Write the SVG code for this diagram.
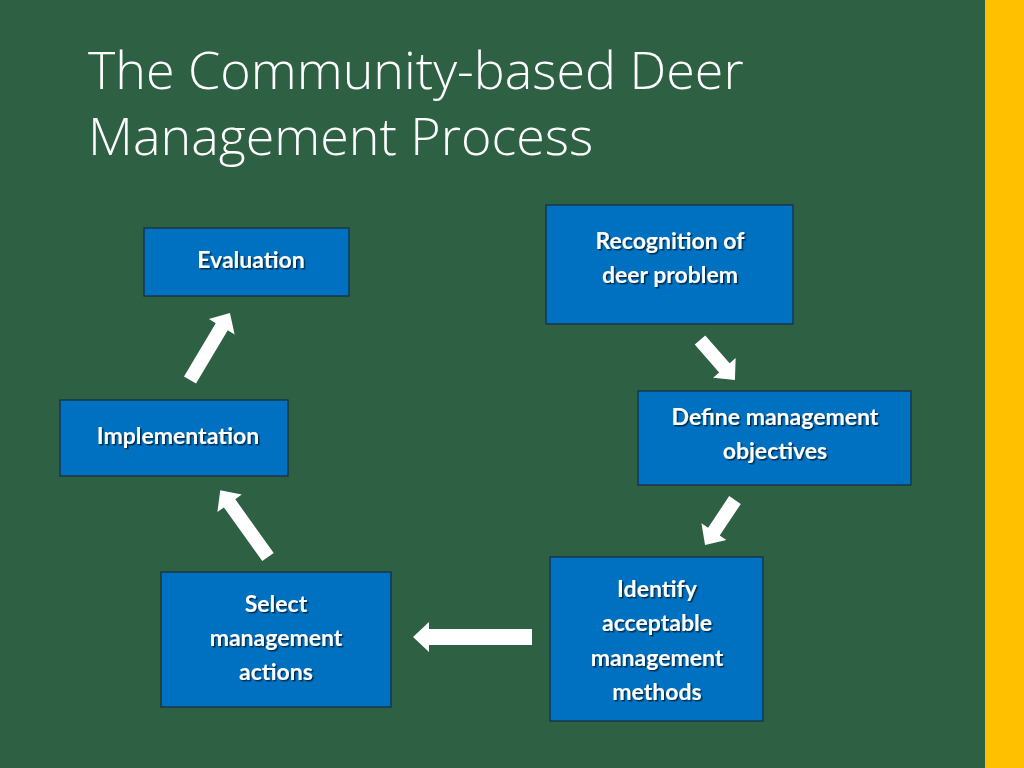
<svg xmlns="http://www.w3.org/2000/svg" width="1024" height="768" viewBox="0 0 1024 768">
<defs><filter id="sh"><feDropShadow dx="1.5" dy="1.5" stdDeviation="0.5" flood-color="#000" flood-opacity="0.6"/></filter></defs>
<style>
.b{fill:#0070C0;stroke:#1a2a3a;stroke-width:1.2}
.t{fill:#fff;font-family:Lato,"Open Sans",sans-serif;font-weight:bold;font-size:23px;text-anchor:middle;filter:url(#sh)}
.a{fill:#fff}
</style>
<rect width="1024" height="768" fill="#2E6043"/>
<rect x="985" y="0" width="39" height="768" fill="#FFC000"/>
<text font-family="'Open Sans',sans-serif" font-weight="300" font-size="52" fill="#fff"><tspan x="88" y="89">The Community-based Deer</tspan><tspan x="88" y="155">Management Process</tspan></text>
<g id="evaluation"><rect class="b" x="144" y="228" width="205" height="68"/><text class="t" x="251" y="268">Evaluation</text></g>
<g id="recognition"><rect class="b" x="546" y="205" width="247" height="119"/><text class="t"><tspan x="670" y="249">Recognition of</tspan><tspan x="670" y="283">deer problem</tspan></text></g>
<g id="define"><rect class="b" x="638" y="391" width="273" height="94"/><text class="t"><tspan x="775" y="425">Define management</tspan><tspan x="775" y="459">objectives</tspan></text></g>
<g id="identify"><rect class="b" x="550" y="557" width="213" height="164"/><text class="t"><tspan x="657" y="597">Identify</tspan><tspan x="657" y="631">acceptable</tspan><tspan x="657" y="666">management</tspan><tspan x="657" y="700">methods</tspan></text></g>
<g id="select"><rect class="b" x="161" y="572" width="230" height="135"/><text class="t"><tspan x="276" y="612">Select</tspan><tspan x="276" y="646">management</tspan><tspan x="276" y="680">actions</tspan></text></g>
<g id="implementation"><rect class="b" x="60" y="400" width="228" height="76"/><text class="t" x="178" y="444">Implementation</text></g>
<g id="connectors">
<path class="a" transform="translate(700,340) rotate(48.8)" d="M0,-7H37V-15L53,0L37,15V7H0Z"/>
<path class="a" transform="translate(735,500) rotate(123.7)" d="M0,-7H38V-15L54,0L38,15V7H0Z"/>
<path class="a" transform="translate(532,637) rotate(180)" d="M0,-8H103V-15L119,0L103,15V8H0Z"/>
<path class="a" transform="translate(268,557) rotate(234.4)" d="M0,-7H66V-15L82,0L66,15V7H0Z"/>
<path class="a" transform="translate(190,380) rotate(300.8)" d="M0,-7H62V-15L78,0L62,15V7H0Z"/>
</g>
</svg>
